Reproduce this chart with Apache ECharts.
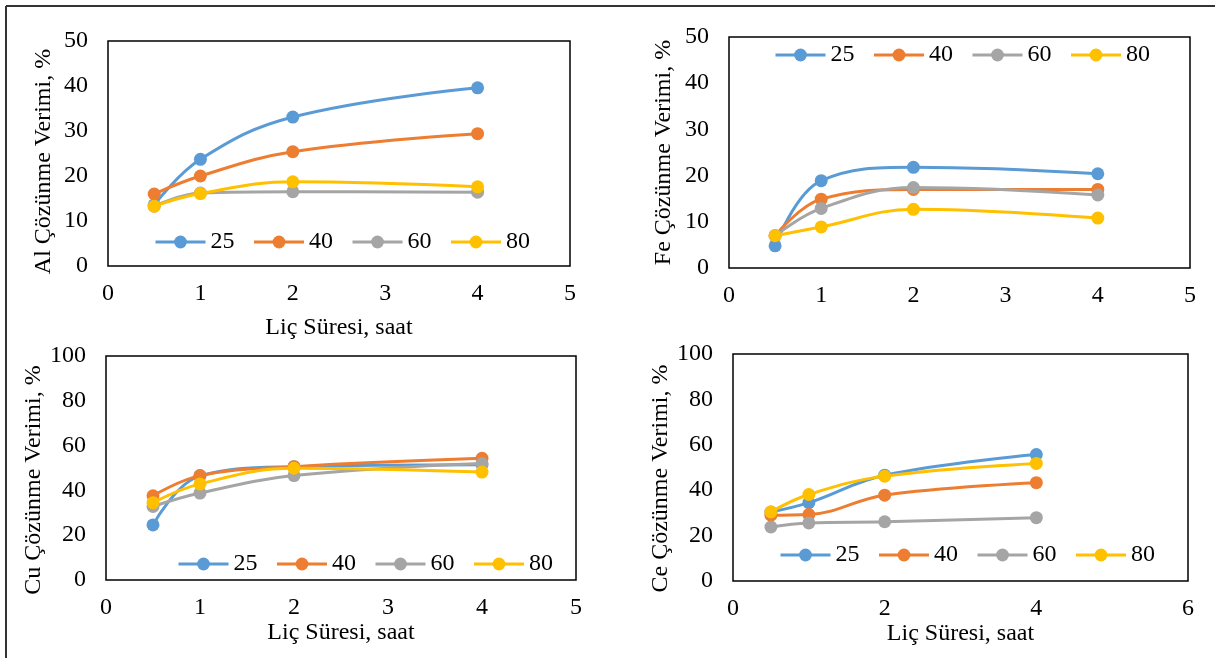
<!DOCTYPE html>
<html>
<head>
<meta charset="utf-8">
<script src="https://cdn.jsdelivr.net/npm/echarts@6/dist/echarts.min.js"></script>
<style>
html,body{margin:0;padding:0;background:#fff;}
#c{width:1215px;height:658px;}
</style>
</head>
<body>
<div id="c"></div>
<script>
// ---- data ----
const times = [0.5, 1, 2, 4];
const seriesNames = ['25', '40', '60', '80'];
const colors = ['#5B9BD5', '#ED7D31', '#A5A5A5', '#FFC000'];

const al25 = [13.6, 23.7, 33.1, 39.6];
const al40 = [16.0, 20.0, 25.4, 29.4];
const al60 = [13.3, 16.2, 16.5, 16.4];
const al80 = [13.3, 16.1, 18.7, 17.6];

const fe25 = [4.8, 18.9, 21.8, 20.4];
const fe40 = [7.0, 14.9, 17.0, 17.0];
const fe60 = [7.0, 12.9, 17.4, 15.8];
const fe80 = [7.0, 8.9, 12.7, 10.8];

const cu25 = [24.6, 46.5, 50.6, 51.5];
const cu40 = [37.6, 46.6, 50.6, 54.3];
const cu60 = [32.8, 38.8, 46.6, 52.0];
const cu80 = [34.5, 42.9, 49.9, 48.2];

const ce25 = [30.4, 34.5, 46.6, 55.7];
const ce40 = [29.0, 29.3, 37.8, 43.3];
const ce60 = [23.8, 25.6, 26.1, 27.9];
const ce80 = [30.4, 38.1, 46.2, 51.8];

const yTitles = ['Al Çözünme Verimi, %', 'Fe Çözünme Verimi, %', 'Cu Çözünme Verimi, %', 'Ce Çözünme Verimi, %'];
const xTitle = 'Liç Süresi, saat';

// ---- build ----
const panels = [
  {data: [al25, al40, al60, al80], grid: {left: 108, top: 41, width: 462, height: 225}, xmax: 5, xint: 1, ymax: 50, yint: 10, xname: xTitle, xgap: 50, ygap: 52, ypad: [0, 16, 0, 0], legend: {left: 154, top: 230}},
  {data: [fe25, fe40, fe60, fe80], grid: {left: 729, top: 37, width: 461, height: 231}, xmax: 5, xint: 1, ymax: 50, yint: 10, xname: '', xgap: 50, ygap: 53, ypad: [0, 0, 0, 0], legend: {left: 774, top: 43}},
  {data: [cu25, cu40, cu60, cu80], grid: {left: 106, top: 356, width: 470, height: 224}, xmax: 5, xint: 1, ymax: 100, yint: 20, xname: xTitle, xgap: 38, ygap: 49, ypad: [0, 24, 0, 0], legend: {left: 177, top: 552}},
  {data: [ce25, ce40, ce60, ce80], grid: {left: 733, top: 354, width: 455, height: 227}, xmax: 6, xint: 2, ymax: 100, yint: 20, xname: xTitle, xgap: 36, ygap: 56, ypad: [0, 22, 0, 0], legend: {left: 779, top: 543}}
];

const font = 'Liberation Serif';
const option = {
  backgroundColor: '#fff',
  animation: false,
  grid: [], xAxis: [], yAxis: [], series: [], legend: [],
  graphic: [
    {type: 'line', shape: {x1: 6, y1: 6, x2: 1215, y2: 6}, style: {stroke: '#333', lineWidth: 2}},
    {type: 'line', shape: {x1: 6, y1: 6, x2: 6, y2: 658}, style: {stroke: '#333', lineWidth: 2}}
  ]
};

panels.forEach((p, i) => {
  option.grid.push(Object.assign({show: true, borderColor: '#000', borderWidth: 1.5, backgroundColor: 'transparent'}, p.grid));
  option.xAxis.push({
    type: 'value', gridIndex: i, min: 0, max: p.xmax, interval: p.xint,
    name: p.xname, nameLocation: 'middle', nameGap: p.xgap,
    nameTextStyle: {fontFamily: font, fontSize: 24, color: '#000'},
    axisLine: {show: false}, axisTick: {show: false}, splitLine: {show: false},
    axisLabel: {fontFamily: font, fontSize: 24, color: '#000', margin: 16}
  });
  option.yAxis.push({
    type: 'value', gridIndex: i, min: 0, max: p.ymax, interval: p.yint,
    name: yTitles[i], nameLocation: 'middle', nameGap: p.ygap, nameRotate: 90,
    nameTextStyle: {fontFamily: font, fontSize: 24, color: '#000', padding: p.ypad},
    axisLine: {show: false}, axisTick: {show: false}, splitLine: {show: false},
    axisLabel: {fontFamily: font, fontSize: 24, color: '#000', margin: 20}
  });
  p.data.forEach((vals, k) => {
    option.series.push({
      type: 'line', name: seriesNames[k], xAxisIndex: i, yAxisIndex: i,
      data: times.map((t, j) => [t, vals[j]]),
      smooth: 0.4, symbol: 'circle', symbolSize: 13,
      lineStyle: {color: colors[k], width: 3},
      itemStyle: {color: colors[k]},
      z: 2 + k
    });
  });
  option.legend.push({
    left: p.legend.left, top: p.legend.top, orient: 'horizontal', padding: 0,
    data: seriesNames, itemWidth: 50, itemHeight: 16, itemGap: 18,
    lineStyle: {width: 3},
    textStyle: {fontFamily: font, fontSize: 24, color: '#000'},
    selectedMode: false
  });
});

const chart = echarts.init(document.getElementById('c'), null, {renderer: 'canvas'});
chart.setOption(option);
</script>
</body>
</html>
